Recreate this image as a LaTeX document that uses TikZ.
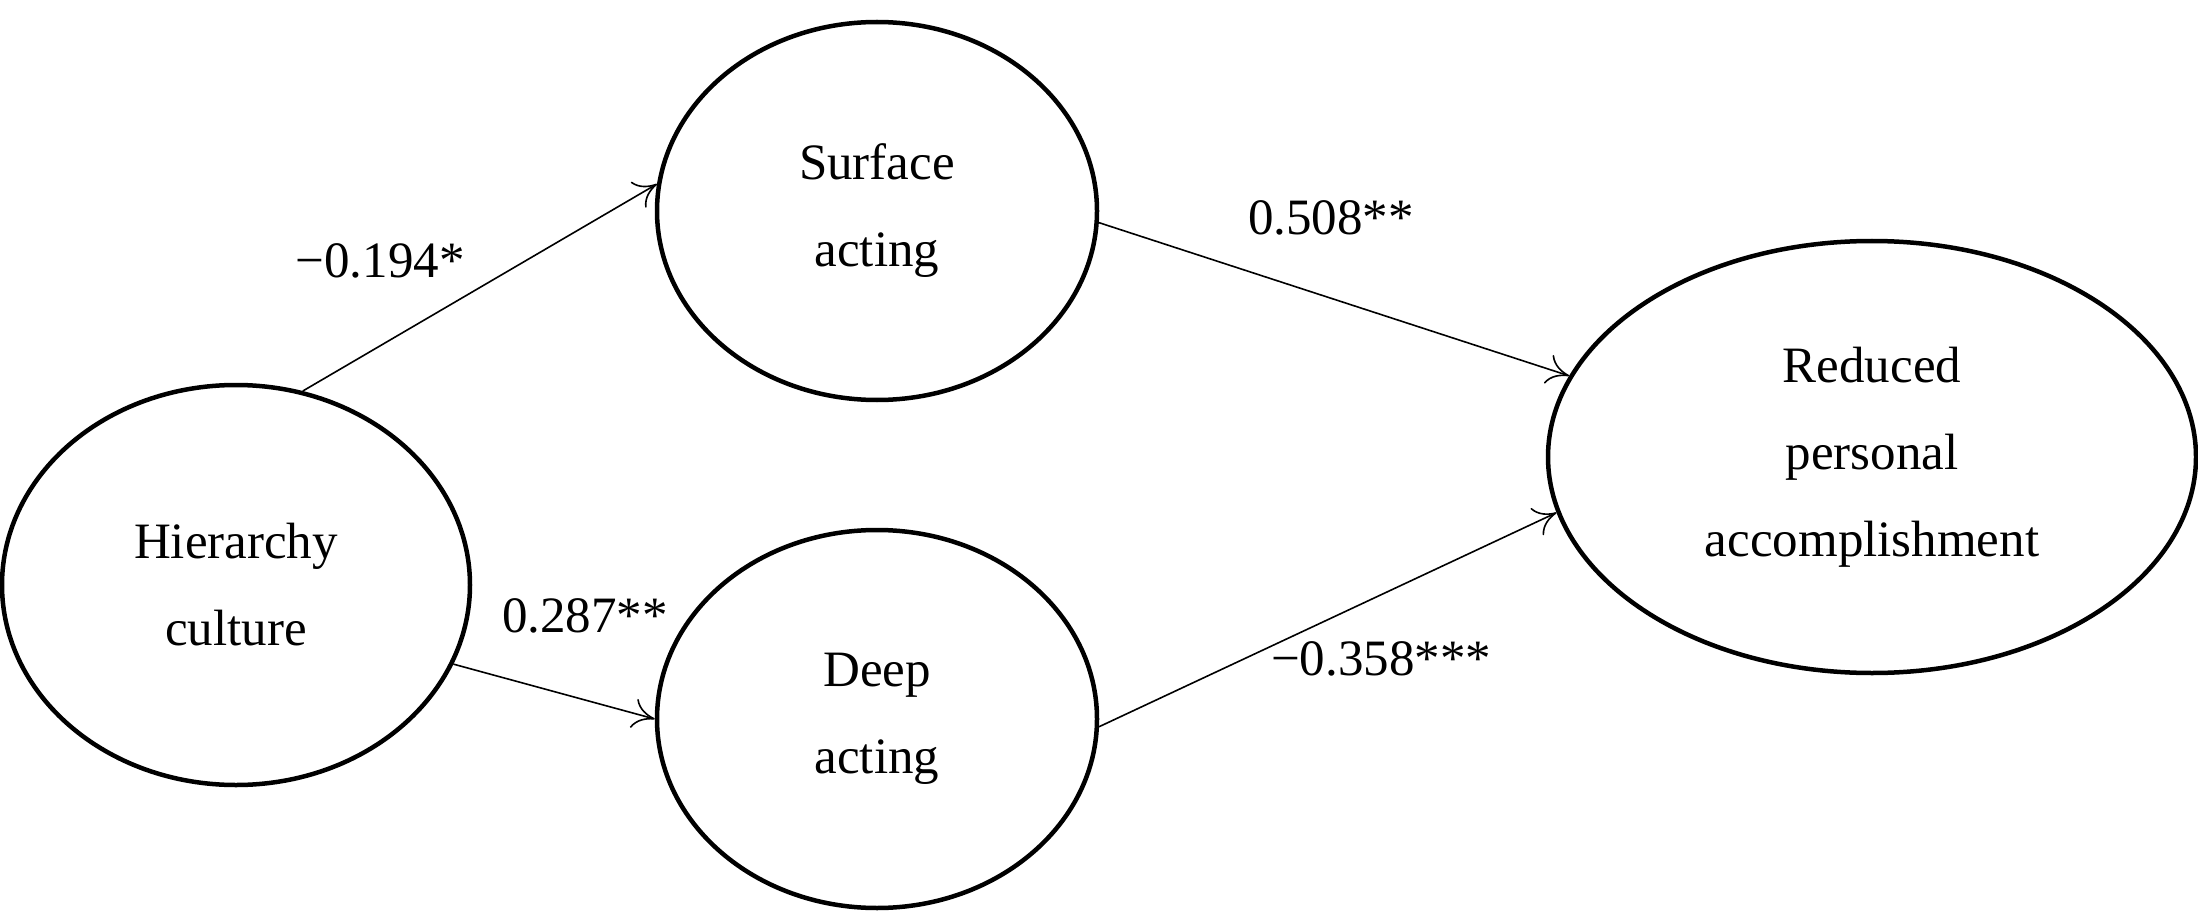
\documentclass[tikz,border=0pt]{standalone}
\usepackage{fontspec}
\setmainfont{Liberation Serif}
\usetikzlibrary{shapes.geometric,arrows.meta}
\begin{document}
\begin{tikzpicture}[x=1pt,y=-1pt,
  el/.style={draw,line width=4.5pt,ellipse,inner sep=0pt,align=center,font=\fontsize{51}{87}\selectfont},
  ar/.style={line width=1.6pt,-{To[length=22pt,width=30pt,line width=1.6pt]}},
  lab/.style={font=\fontsize{51}{60}\selectfont}]
\useasboundingbox (0,0) rectangle (2198,912);
\node[el,minimum width=468pt,minimum height=400pt] (H) at (236,585) {Hierarchy\\culture};
\node[el,minimum width=440pt,minimum height=378pt] (S) at (877,211) {Surface\\acting};
\node[el,minimum width=440pt,minimum height=378pt] (D) at (877,719) {Deep\\acting};
\node[el,minimum width=648pt,minimum height=432pt] (R) at (1872,457) {Reduced\\personal\\accomplishment};
\draw[ar] (H.71) -- (S.173);
\draw[ar] (H.-20) -- (D.180);
\draw[ar] (S.-3) -- (R.165);
\draw[ar] (D.-2) -- (R.190);
\node[lab] (l1) at (380,261) {−0.194*};
\node[lab] (l2) at (585,616) {0.287**};
\node[lab] (l3) at (1331,218) {0.508**};
\node[lab] (l4) at (1381,659) {−0.358***};
\end{tikzpicture}
\end{document}
